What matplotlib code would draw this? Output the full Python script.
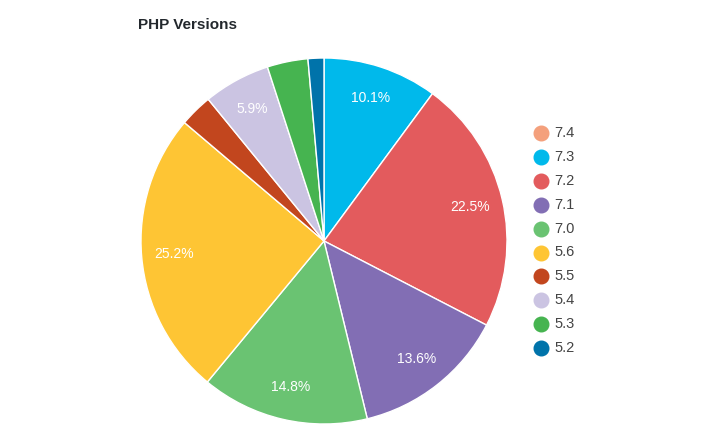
import matplotlib.pyplot as plt
from matplotlib.lines import Line2D

# PHP版本分布
versions = ['7.4', '7.3', '7.2', '7.1', '7.0', '5.6', '5.5', '5.4', '5.3', '5.2']
shares = [0.0, 10.1, 22.5, 13.6, 14.8, 25.2, 2.9, 5.9, 3.6, 1.4]
colors = ['#f4a07c', '#00b9eb', '#e35b5d', '#826eb4', '#6ac372', '#fec534',
          '#c2461e', '#cbc4e2', '#46b450', '#0073aa']

plt.rcParams['font.family'] = ['Liberation Sans', 'DejaVu Sans']

fig = plt.figure(figsize=(7.2, 4.42), dpi=100)
ax = fig.add_axes([141 / 720, 18 / 442, 366 / 720, 366 / 442])


def fmt(p):
    return '%.1f%%' % p if p >= 5 else ''


wedges, texts, autotexts = ax.pie(
    shares, colors=colors, startangle=90, counterclock=False,
    autopct=fmt, pctdistance=0.82,
    wedgeprops=dict(edgecolor='white', linewidth=1),
    textprops=dict(color='white', fontsize=10))
ax.set_xlim(-1, 1)
ax.set_ylim(-1, 1)
ax.set_aspect('equal')

fig.text(138 / 720, 1 - 25 / 442, 'PHP Versions', fontsize=11, fontweight='bold',
         color='#23282d', va='center', ha='left')

# 图例
for i, (v, c) in enumerate(zip(versions, colors)):
    y = 1 - (133 + i * 23.9) / 442
    fig.add_artist(Line2D([541 / 720], [y], marker='o', markersize=10.5, color=c,
                          linestyle='none', transform=fig.transFigure))
    fig.text(554 / 720, y, v, fontsize=10.5, color='#444444', va='center', ha='left')

fig.savefig('out.png', dpi=100)
